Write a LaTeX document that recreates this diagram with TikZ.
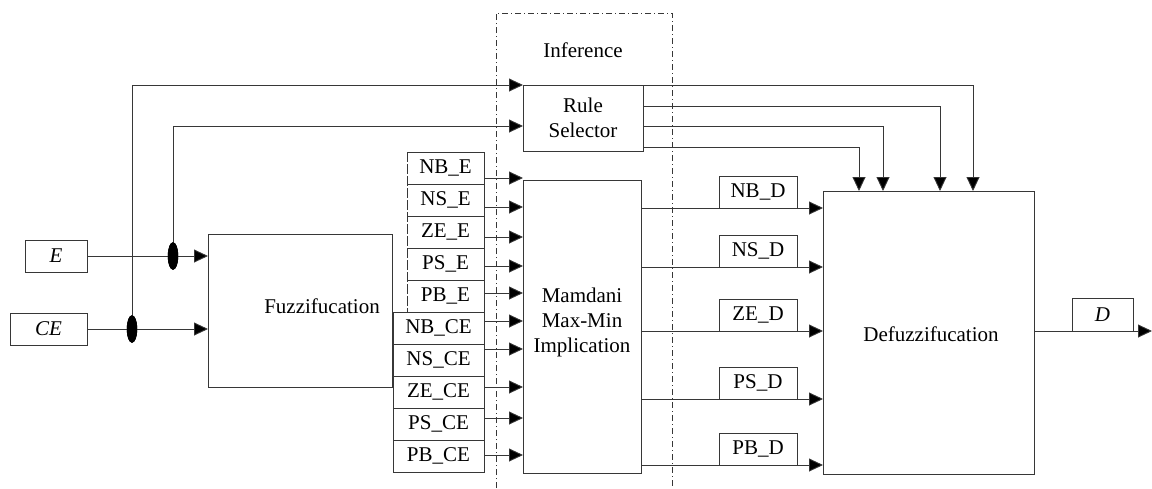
\documentclass[tikz,border=0pt]{standalone}
\usepackage{fontspec}
\setmainfont{Liberation Serif}
\usetikzlibrary{arrows.meta,shapes.geometric}
\definecolor{lc}{RGB}{55,55,55}
\begin{document}
\begin{tikzpicture}[x=1pt,y=-1pt,
  every node/.style={font=\fontsize{21}{25}\selectfont},
  box/.style={draw=lc, line width=0.9pt, inner sep=0pt, outer sep=0pt},
  plain/.style={inner sep=0pt, outer sep=0pt},
  ln/.style={draw=lc, line width=0.9pt},
  arr/.style={draw=lc, line width=0.9pt, -{Triangle[length=14pt,width=13pt,fill=black]}},
  junc/.style={fill=black, draw=black, ellipse, minimum width=10pt, minimum height=27pt, inner sep=0pt}
]
\useasboundingbox (0,0) rectangle (1152,488);

% inference region
\draw[lc, line width=0.8pt, dash pattern=on 6pt off 3pt on 1pt off 3pt] (496,488) -- (496,13) -- (672,13) -- (672,488);
\node (inf) at (583,50) {Inference};

% inputs
\node[box, minimum width=62pt, minimum height=32pt] (E) at (56,256) {\textit{E}};
\node[box, minimum width=77pt, minimum height=32pt] (CE) at (48.5,329) {\textit{CE}};

% fuzzification
\node[box, minimum width=184pt, minimum height=153pt] (fz) at (300,310.5) {};
\node (fztext) at (322,306) {Fuzzifucation};

% E labels
\foreach \t [count=\i from 0] in {NB,NS,ZE,PS,PB}
  \node[plain, minimum width=77pt, minimum height=32pt] (\t e) at (445.5,168+32*\i) {\t\_E};
\foreach \t in {NB,NS,ZE,PS,PB}
  \draw[ln] (\t e.north west) -- (\t e.north east) -- (\t e.south east) -- (\t e.south west);
\draw[lc, line width=0.9pt, dash pattern=on 10pt off 2pt] (NBe.north west) -- (PBe.south west);

% CE labels
\foreach \t [count=\i from 0] in {NB,NS,ZE,PS,PB}
  \node[box, minimum width=91pt, minimum height=32pt] (\t c) at (438.5,328+32*\i) {\t\_CE};

% inference boxes
\node[box, minimum width=118pt, minimum height=293pt] (mam) at (582,326.5) {};
\node[align=center] (mamtext) at (582,322) {Mamdani\\Max-Min\\Implication};
\node[box, minimum width=120pt, minimum height=66pt, align=center] (rs) at (583,118) {Rule\\Selector};

% defuzzification
\node[box, minimum width=211pt, minimum height=283pt] (dz) at (928.5,332.5) {};
\node (dztext) at (931,334) {Defuzzifucation};

% junctions
\node[junc] (jE) at (173,256) {};
\node[junc] (jCE) at (132,329) {};

% input connectors
\draw[arr] (E) -- (fz.west |- E);
\draw[arr] (CE) -- (fz.west |- CE);
\draw[arr] (jE.center) |- (rs.west |- 0,126);
\draw[arr] (jCE.center) |- (rs.north west);
\node[junc] at (jE) {};
\node[junc] at (jCE) {};

% fuzzy sets into Mamdani
\foreach \t/\y in {NBe/178,NSe/207,ZEe/237,PSe/266,PBe/293,NBc/321,NSc/349,ZEc/387,PSc/418,PBc/455}
  \draw[arr] (\t.east |- 0,\y) -- (mam.west |- 0,\y);

% rule selector outputs
\draw[arr] (rs.north east) -| (dz.north -| 973,0);
\draw[arr] (rs.east |- 0,106) -| (dz.north -| 940,0);
\draw[arr] (rs.east |- 0,126) -| (dz.north -| 883,0);
\draw[arr] (rs.east |- 0,147) -| (dz.north -| 859,0);

% Mamdani outputs
\foreach \t/\y in {NB/208,NS/267,ZE/331,PS/399,PB/465} {
  \draw[arr] (mam.east |- 0,\y) -- (dz.west |- 0,\y);
  \node[box, fill=white, minimum width=78pt, minimum height=32pt, anchor=south west] (\t d) at (719,\y) {\t\_D};
}

% output
\coordinate (out) at (1152,331);
\draw[arr] (dz.east |- out) -- (out);
\node[box, fill=white, minimum width=61pt, minimum height=33pt, anchor=south west] (D) at (1072,331) {\textit{D}};
\end{tikzpicture}
\end{document}
